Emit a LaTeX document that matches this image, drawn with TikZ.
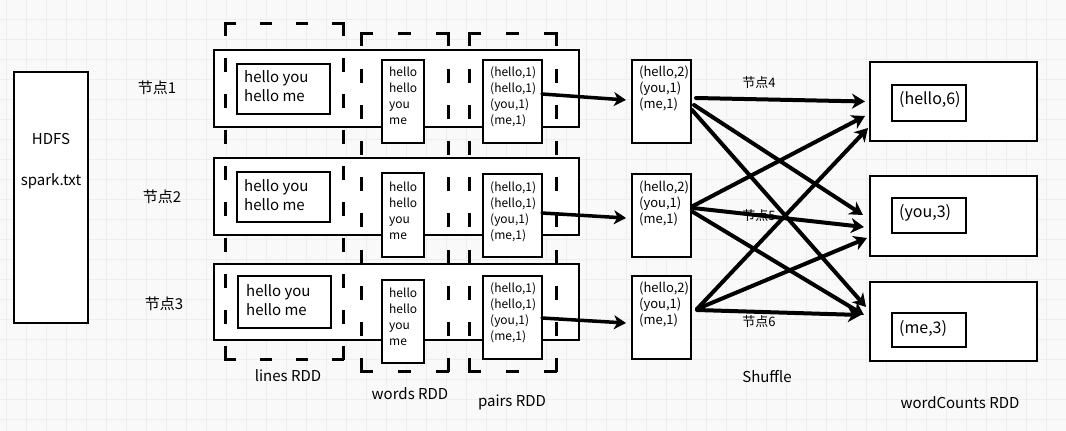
\documentclass[tikz,border=0pt]{standalone}
\usepackage{fontspec}
\setmainfont{Noto Sans CJK SC}
\usetikzlibrary{arrows.meta}
\definecolor{bgc}{HTML}{F9F9F9}
\definecolor{gridc}{HTML}{EEEEEE}
\newcommand\tlines[6]{\foreach \t [count=\i] in {#6}{\node[txt, font=\fontsize{#5}{#5}\selectfont] (#1-\i) at (#2, {#3+(\i-1)*#4+0.35*#5}) {\t};}}
\begin{document}
\begin{tikzpicture}[x=1pt,y=-1pt,
  box/.style={draw=black, fill=white, line width=2.5pt, inner sep=0pt, outer sep=0pt},
  dashline/.style={line width=3pt, line cap=rect},
  txt/.style={inner sep=0pt, anchor=base west},
  lbl/.style={inner sep=0pt, anchor=base},
  arr/.style={line width=4pt, line cap=round, -{Stealth[length=13pt,width=15pt,inset=4pt]}},
  rarr/.style={line width=3.5pt, line cap=round, -{Stealth[length=12pt,width=14pt,inset=3.5pt]}}]
\useasboundingbox (0,0) rectangle (1066,431);
\fill[bgc] (0,0) rectangle (1066,431);
\foreach \x in {6,26,...,1066} \draw[gridc, line width=1pt] (\x,0) -- (\x,431);
\foreach \y in {19.5,39.5,...,431} \draw[gridc, line width=1pt] (0,\y) -- (1066,\y);

% HDFS
\node[box, minimum width=74pt, minimum height=251pt] (hdfs) at (51,197.5) {};
% rows
\node[box, minimum width=365pt, minimum height=77pt] (r1) at (396.5,88.5) {};
\node[box, minimum width=365pt, minimum height=77pt] (r2) at (396.5,196.5) {};
\node[box, minimum width=365pt, minimum height=76pt] (r3) at (396.5,302) {};

% dashed regions
\node[inner sep=0pt, minimum width=117pt, minimum height=335pt] (rddL) at (284.5,191.5) {};
\node[inner sep=0pt, minimum width=86pt, minimum height=337pt] (rddW) at (405,202.5) {};
\node[inner sep=0pt, minimum width=86pt, minimum height=337pt] (rddP) at (513,202.5) {};
\draw[dashline, dash pattern=on 9pt off 27pt] (rddL.north west) -- (rddL.north east);
\draw[dashline, dash pattern=on 9pt off 27pt] (rddL.south west) -- (rddL.south east);
\draw[dashline, dash pattern=on 11pt off 25pt] (rddL.north west) -- (rddL.south west);
\draw[dashline, dash pattern=on 11pt off 25pt] (rddL.north east) -- (rddL.south east);
\foreach \r in {rddW,rddP}{
  \draw[dashline, dash pattern=on 10pt off 28pt] (\r.north west) -- (\r.north east);
  \draw[dashline, dash pattern=on 10pt off 28pt] (\r.south west) -- (\r.south east);
  \draw[dashline, dash pattern=on 11pt off 25.22pt] (\r.north west) -- (\r.south west);
  \draw[dashline, dash pattern=on 11pt off 25.22pt] (\r.north east) -- (\r.south east);
}

% lines boxes
\node[box, minimum width=93pt, minimum height=50pt] (l1) at (283.5,89) {};
\node[box, minimum width=93pt, minimum height=50pt] (l2) at (283.5,197) {};
\node[box, minimum width=93pt, minimum height=52pt] (l3) at (284.5,302) {};
% words boxes
\node[box, minimum width=42pt, minimum height=83pt] (w1) at (403,101.5) {};
\node[box, minimum width=42pt, minimum height=84pt] (w2) at (403,215) {};
\node[box, minimum width=42pt, minimum height=83pt] (w3) at (403,321.5) {};
% pairs boxes
\node[box, minimum width=59pt, minimum height=83pt] (p1) at (512.5,101.5) {};
\node[box, minimum width=59pt, minimum height=83pt] (p2) at (512.5,215.5) {};
\node[box, minimum width=59pt, minimum height=83pt] (p3) at (512.5,317.5) {};
% shuffle boxes
\node[box, minimum width=59pt, minimum height=83pt] (s1) at (661.5,101.5) {};
\node[box, minimum width=59pt, minimum height=83pt] (s2) at (661.5,215.5) {};
\node[box, minimum width=59pt, minimum height=83pt] (s3) at (661.5,317.5) {};
% output boxes
\node[box, minimum width=167pt, minimum height=79pt] (o1) at (953.5,101.5) {};
\node[box, minimum width=167pt, minimum height=80pt] (o2) at (953.5,216) {};
\node[box, minimum width=167pt, minimum height=79pt] (o3) at (953.5,321.5) {};
\node[box, minimum width=74pt, minimum height=36pt] (i1) at (929,103) {};
\node[box, minimum width=74pt, minimum height=35pt] (i2) at (929,215.5) {};
\node[box, minimum width=74pt, minimum height=34pt] (i3) at (929,330) {};

% texts
\node[lbl, font=\fontsize{15}{15}\selectfont] (thdfs) at (51,{139+5.2}) {HDFS};
\node[lbl, font=\fontsize{15}{15}\selectfont] (tspark) at (51,{180+5.2}) {spark.txt};
\node[lbl, font=\fontsize{15}{15}\selectfont] (n1) at (157,{88+5.5}) {节点1};
\node[lbl, font=\fontsize{15}{15}\selectfont] (n2) at (162,{197+5.5}) {节点2};
\node[lbl, font=\fontsize{15}{15}\selectfont] (n3) at (164,{304+5.5}) {节点3};
\node[lbl, font=\fontsize{13}{13}\selectfont] (n4) at (759,{83+4.8}) {节点4};
\node[lbl, font=\fontsize{13}{13}\selectfont] (n5) at (759,{216+4.8}) {节点5};
\node[lbl, font=\fontsize{13}{13}\selectfont] (n6) at (759,{322+4.8}) {节点6};
\node[lbl, font=\fontsize{15}{15}\selectfont] (tl) at (288,{376+5.2}) {lines RDD};
\node[lbl, font=\fontsize{15}{15}\selectfont] (tw) at (410,{394+5.2}) {words RDD};
\node[lbl, font=\fontsize{15}{15}\selectfont] (tp) at (512,{401+5.2}) {pairs RDD};
\node[lbl, font=\fontsize{15}{15}\selectfont] (tsh) at (767,{377+5.2}) {Shuffle};
\node[lbl, font=\fontsize{15}{15}\selectfont] (twc) at (960,{403+5.2}) {wordCounts RDD};

\tlines{tl1}{244}{77}{19}{15}{{hello you},{hello me}}
\tlines{tl2}{244}{186}{19}{15}{{hello you},{hello me}}
\tlines{tl3}{246}{291}{19}{15}{{hello you},{hello me}}
\tlines{tw1}{389}{72}{16}{12}{hello,hello,you,me}
\tlines{tw2}{389}{187}{16}{12}{hello,hello,you,me}
\tlines{tw3}{389}{293}{16}{12}{hello,hello,you,me}
\tlines{tp1}{490}{72}{16}{12}{{(hello,1)},{(hello,1)},{(you,1)},{(me,1)}}
\tlines{tp2}{490}{187}{16}{12}{{(hello,1)},{(hello,1)},{(you,1)},{(me,1)}}
\tlines{tp3}{490}{288}{16}{12}{{(hello,1)},{(hello,1)},{(you,1)},{(me,1)}}
\tlines{ts1}{639}{72}{16}{13}{{(hello,2)},{(you,1)},{(me,1)}}
\tlines{ts2}{639}{187}{16}{13}{{(hello,2)},{(you,1)},{(me,1)}}
\tlines{ts3}{639}{288}{16}{13}{{(hello,2)},{(you,1)},{(me,1)}}
\node[txt, font=\fontsize{16}{16}\selectfont] (to1) at (899,{99+5.6}) {(hello,6)};
\node[txt, font=\fontsize{16}{16}\selectfont] (to2) at (899,{212+5.6}) {(you,3)};
\node[txt, font=\fontsize{16}{16}\selectfont] (to3) at (899,{328+5.6}) {(me,3)};

% arrows pairs -> shuffle
\draw[rarr] ([yshift=7.5pt]p1.east) -- ([xshift=-6pt,yshift=1.5pt]s1.west);
\draw[rarr] ([yshift=2.5pt]p2.east) -- ([xshift=-6pt,yshift=-2.5pt]s2.west);
\draw[rarr] ([yshift=-0.5pt]p3.east) -- ([xshift=-6pt,yshift=-5.5pt]s3.west);
% shuffle arrows
\draw[arr] ([xshift=5pt,yshift=3.5pt]s1.east) -- ([xshift=-5pt]o1.west);
\draw[arr] ([xshift=3pt,yshift=-3.5pt]s1.east) -- ([xshift=-7pt,yshift=1pt]o2.west);
\draw[arr] ([xshift=1pt,yshift=-8.5pt]s1.east) -- ([xshift=-4pt,yshift=14.5pt]o3.west);
\draw[arr] ([xshift=2pt,yshift=9.5pt]s2.east) -- ([xshift=-5pt,yshift=-14.5pt]o1.west);
\draw[arr] ([xshift=2pt,yshift=7.5pt]s2.east) -- ([xshift=-6pt,yshift=-11pt]o2.west);
\draw[arr] ([xshift=2pt,yshift=3.5pt]s2.east) -- ([xshift=-6pt,yshift=6.5pt]o3.west);
\draw[arr] ([xshift=6pt,yshift=8.5pt]s3.east) -- ([xshift=-2pt,yshift=-26.5pt]o1.west);
\draw[arr] ([xshift=6pt,yshift=8.5pt]s3.east) -- ([xshift=-3pt,yshift=-22pt]o2.west);
\draw[arr] ([xshift=6pt,yshift=7.5pt]s3.east) -- ([xshift=-9pt,yshift=6.5pt]o3.west);
\end{tikzpicture}
\end{document}
